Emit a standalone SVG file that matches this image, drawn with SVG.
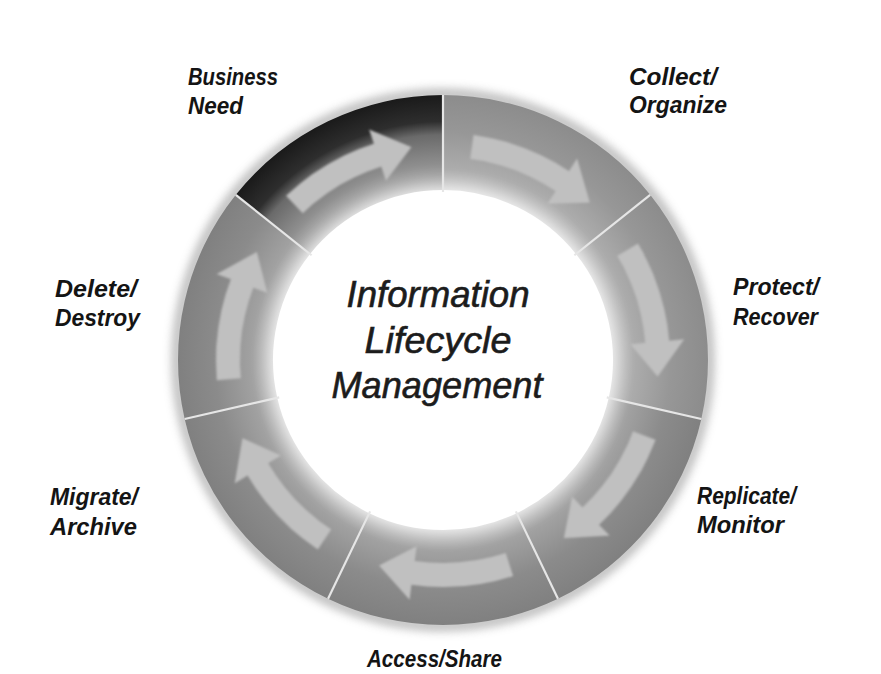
<svg xmlns="http://www.w3.org/2000/svg" width="881" height="674" viewBox="0 0 881 674">
<style>
.lbl{font-family:"Liberation Sans Narrow","Liberation Sans",Arial,sans-serif;font-weight:bold;font-style:italic;font-size:24px;fill:#141414}
.ttl{font-family:"Liberation Sans Narrow","Liberation Sans",Arial,sans-serif;font-style:italic;font-size:36px;fill:#1c1c1c;stroke:#1c1c1c;stroke-width:0.6;text-anchor:middle}
.div{stroke:#e6e6e6;stroke-width:2.2}
.arrow{fill:#c0c0c0;filter:url(#soft)}
</style>
<defs>
<radialGradient id="ringG" gradientUnits="userSpaceOnUse" cx="0" cy="0" r="265">
<stop offset="0.62" stop-color="#d4d4d4"/>
<stop offset="0.72" stop-color="#a2a2a2"/>
<stop offset="0.86" stop-color="#8b8b8b"/>
<stop offset="1" stop-color="#808080"/>
</radialGradient>
<radialGradient id="lightG" gradientUnits="userSpaceOnUse" cx="0" cy="0" r="265">
<stop offset="0.62" stop-color="#d6d6d6"/>
<stop offset="0.72" stop-color="#acacac"/>
<stop offset="0.86" stop-color="#979797"/>
<stop offset="1" stop-color="#8c8c8c"/>
</radialGradient>
<radialGradient id="darkG" gradientUnits="userSpaceOnUse" cx="0" cy="0" r="265">
<stop offset="0.62" stop-color="#c6c6c6"/>
<stop offset="0.74" stop-color="#8e8e8e"/>
<stop offset="0.85" stop-color="#6a6a6a"/>
<stop offset="0.9" stop-color="#2e2e2e"/>
<stop offset="1" stop-color="#1a1a1a"/>
</radialGradient>
<filter id="blur" x="-20%" y="-20%" width="140%" height="140%"><feGaussianBlur stdDeviation="10"/></filter>
<filter id="halo" x="-20%" y="-20%" width="140%" height="140%"><feGaussianBlur stdDeviation="5"/></filter>
<filter id="soft" x="-20%" y="-20%" width="140%" height="140%"><feGaussianBlur stdDeviation="1.2"/></filter>
<path id="seg" d="M0,-265 A265,265 0 0 1 207.2,-165.2 L132.9,-106.0 A170,170 0 0 0 0,-170 Z"/>
<path id="arr" d="M-70.1,-215.9 A227,227 0 0 1 31.6,-224.8 L33.4,-239.7 L63.9,-205.6 L26.4,-186.2 L28.3,-201.0 A203,203 0 0 0 -62.7,-193.1 Z"/>
</defs>
<rect width="881" height="674" fill="#ffffff"/>
<g transform="translate(443,360)">
<circle r="266" fill="none" stroke="#9a9a9a" stroke-width="10" filter="url(#halo)" opacity="0.7"/>
<g id="collect-organize"><use href="#seg" fill="url(#lightG)" transform="rotate(0)"/></g>
<g id="protect-recover"><use href="#seg" fill="url(#lightG)" transform="rotate(51.43)"/></g>
<g id="replicate-monitor"><use href="#seg" fill="url(#ringG)" transform="rotate(102.86)"/></g>
<g id="access-share"><use href="#seg" fill="url(#ringG)" transform="rotate(154.29)"/></g>
<g id="migrate-archive"><use href="#seg" fill="url(#ringG)" transform="rotate(205.71)"/></g>
<g id="delete-destroy"><use href="#seg" fill="url(#ringG)" transform="rotate(257.14)"/></g>
<g id="business-need"><use href="#seg" fill="url(#darkG)" transform="rotate(308.57)"/></g>
<g id="connectors">
<use href="#arr" class="arrow" transform="rotate(25.71)"/>
<use href="#arr" class="arrow" transform="rotate(77.14)"/>
<use href="#arr" class="arrow" transform="rotate(128.57)"/>
<use href="#arr" class="arrow" transform="rotate(180)"/>
<use href="#arr" class="arrow" transform="rotate(231.43)"/>
<use href="#arr" class="arrow" transform="rotate(282.86)"/>
<use href="#arr" class="arrow" transform="rotate(334.29)"/>
</g>
<circle r="170" fill="#ffffff" filter="url(#blur)"/>
<circle r="150" fill="#ffffff"/>
<g id="dividers">
<line class="div" x1="0" y1="-168" x2="0" y2="-265" transform="rotate(0)"/>
<line class="div" x1="0" y1="-168" x2="0" y2="-265" transform="rotate(51.43)"/>
<line class="div" x1="0" y1="-168" x2="0" y2="-265" transform="rotate(102.86)"/>
<line class="div" x1="0" y1="-168" x2="0" y2="-265" transform="rotate(154.29)"/>
<line class="div" x1="0" y1="-168" x2="0" y2="-265" transform="rotate(205.71)"/>
<line class="div" x1="0" y1="-168" x2="0" y2="-265" transform="rotate(257.14)"/>
<line class="div" x1="0" y1="-168" x2="0" y2="-265" transform="rotate(308.57)"/>
</g>
</g>
<g id="title">
<text class="ttl" x="438" y="307" textLength="183" lengthAdjust="spacingAndGlyphs">Information</text>
<text class="ttl" x="438" y="353" textLength="147" lengthAdjust="spacingAndGlyphs">Lifecycle</text>
<text class="ttl" x="437" y="398" textLength="211" lengthAdjust="spacingAndGlyphs">Management</text>
</g>
<g id="labels">
<text class="lbl" x="188" y="85" textLength="90" lengthAdjust="spacingAndGlyphs">Business</text>
<text class="lbl" x="188" y="114" textLength="55" lengthAdjust="spacingAndGlyphs">Need</text>
<text class="lbl" x="629" y="85" textLength="88" lengthAdjust="spacingAndGlyphs">Collect/</text>
<text class="lbl" x="629" y="113" textLength="98" lengthAdjust="spacingAndGlyphs">Organize</text>
<text class="lbl" x="733" y="295" textLength="86" lengthAdjust="spacingAndGlyphs">Protect/</text>
<text class="lbl" x="733" y="325" textLength="85" lengthAdjust="spacingAndGlyphs">Recover</text>
<text class="lbl" x="697" y="504" textLength="99" lengthAdjust="spacingAndGlyphs">Replicate/</text>
<text class="lbl" x="697" y="533" textLength="87" lengthAdjust="spacingAndGlyphs">Monitor</text>
<text class="lbl" x="50" y="505" textLength="88" lengthAdjust="spacingAndGlyphs">Migrate/</text>
<text class="lbl" x="50" y="535" textLength="87" lengthAdjust="spacingAndGlyphs">Archive</text>
<text class="lbl" x="55" y="297" textLength="82" lengthAdjust="spacingAndGlyphs">Delete/</text>
<text class="lbl" x="55" y="326" textLength="85" lengthAdjust="spacingAndGlyphs">Destroy</text>
<text class="lbl" x="367" y="667" textLength="135" lengthAdjust="spacingAndGlyphs">Access/Share</text>
</g>
</svg>
